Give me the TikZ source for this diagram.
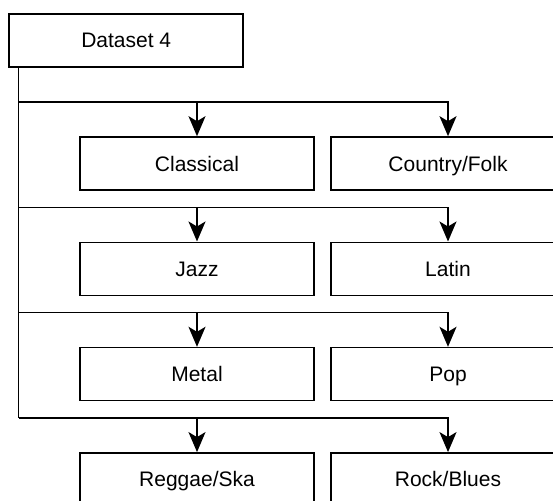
\documentclass[tikz,border=0pt]{standalone}
\usepackage{fontspec}
\setmainfont{Liberation Sans}
\usetikzlibrary{arrows.meta}
\tikzstyle{box}=[draw,line width=1.6pt,minimum width=234pt,minimum height=53pt,inner sep=0pt,text height=15pt,text depth=0pt,font=\fontsize{21}{25}\selectfont]
\tikzstyle{link}=[draw,line width=1.6pt]
\tikzstyle{edge}=[link,-{Stealth[length=20pt,width=17pt,inset=5pt]}]

\begin{document}
\begin{tikzpicture}[x=1pt,y=-1pt]
      \useasboundingbox (0,0) rectangle (553,500);
      \clip (0,0) rectangle (553,500);
      \node[box] (data) at (126.25,40.5) {Dataset 4};
      \foreach \i/\lname/\rname in {0/Classical/{Country/Folk},1/Jazz/Latin,2/Metal/Pop,3/{Reggae/Ska}/{Rock/Blues}}{
        \pgfmathsetmacro{\rowy}{163.5+105.3*\i}
        \node[box] (l\i) at (197,\rowy) {\lname};
        \node[box] (r\i) at (448,\rowy) {\rname};
        \coordinate (b\i) at (18.5,\rowy-61.5);
      }
      \path[link] (data.south -| b3) -- (b3);
      \foreach \i in {0,...,3}{
        \path[edge] (b\i) -| (l\i.north);
        \path[edge] (b\i) -| (r\i.north);
      }

    \end{tikzpicture}
\end{document}
